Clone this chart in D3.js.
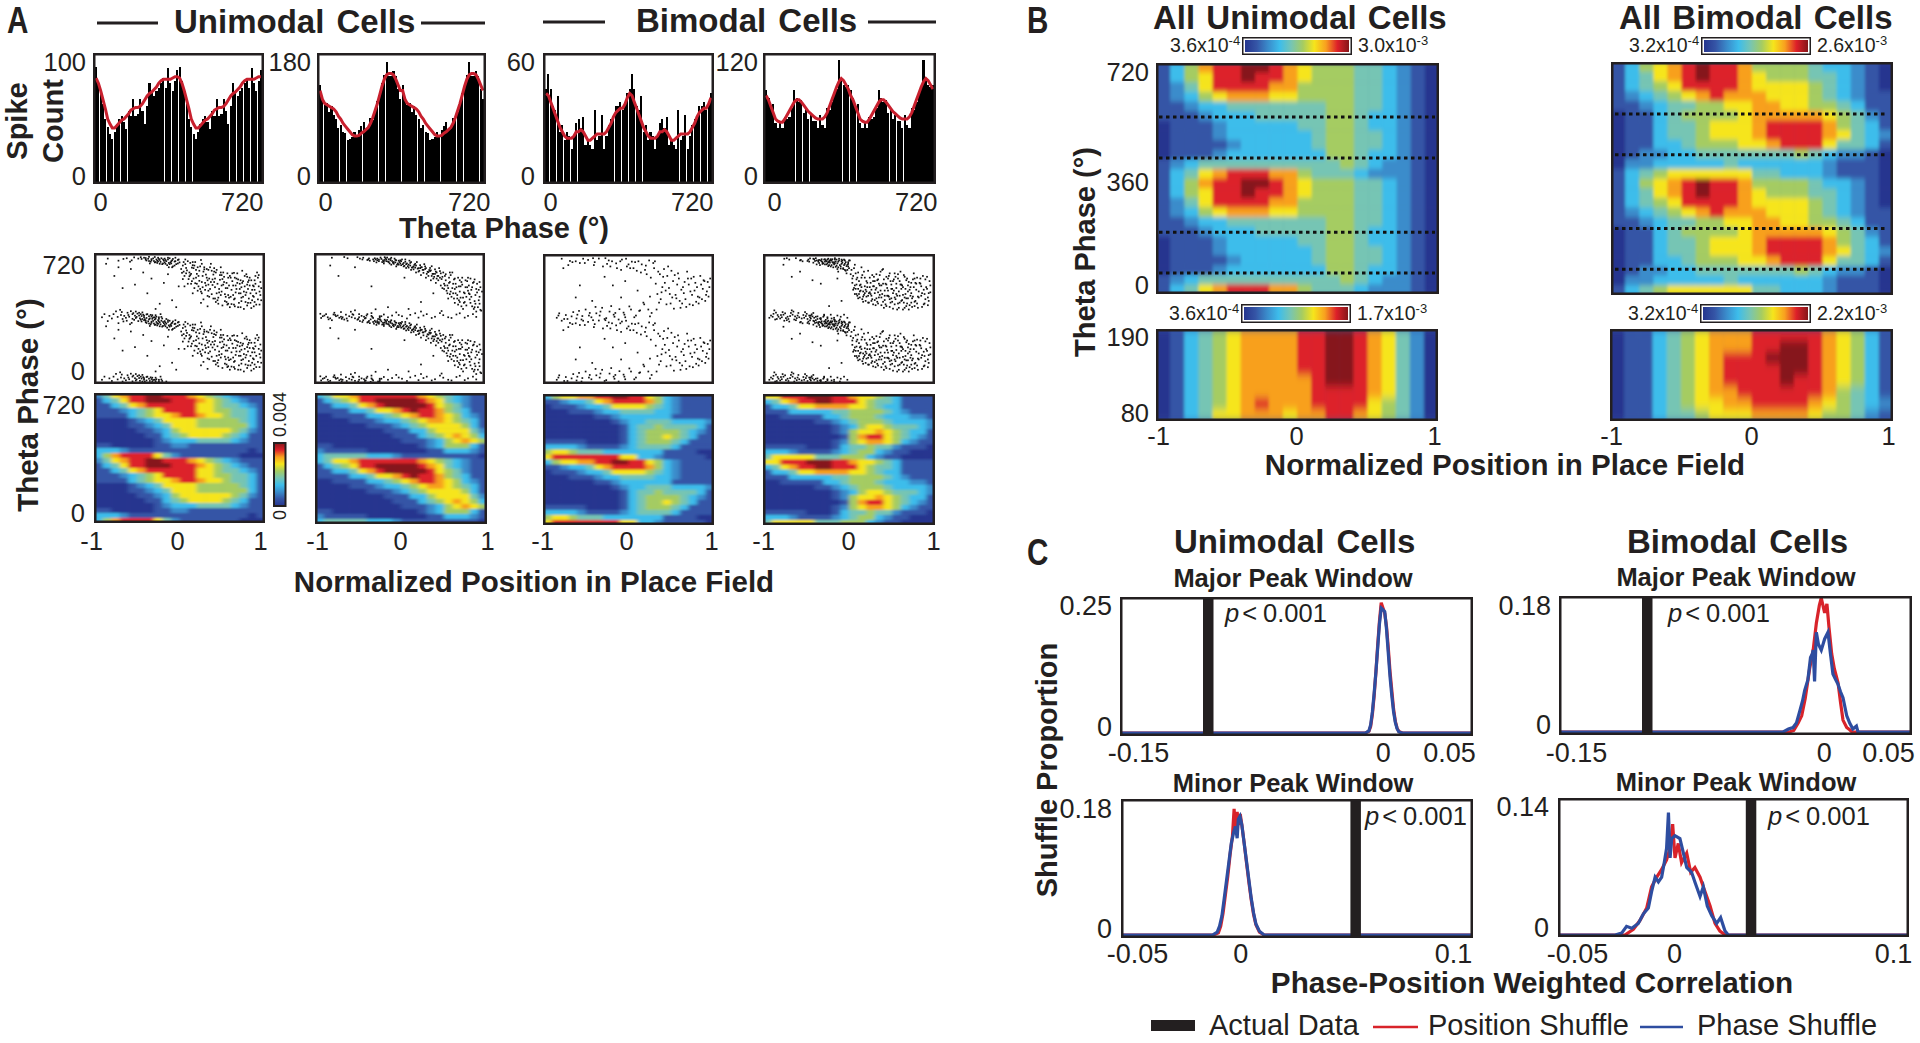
<!DOCTYPE html>
<html>
<head>
<meta charset="utf-8">
<script src="https://cdn.jsdelivr.net/npm/d3@7"></script>
<style>
  html, body { margin: 0; background: #fff; }
  svg { display: block; }
  text { font-family: "Liberation Sans", Arial, sans-serif; fill: #231f20; }
</style>
</head>
<body>
<svg id="fig" width="1920" height="1043"></svg>
<script>
// spike counts per 10 degree bin, one theta cycle, the figure shows it twice
const histBarsA1 = [91,80,72,62,50,44,38,34,40,46,50,52,48,42,56,52,66,52,54,66,56,46,60,78,70,68,72,74,78,82,74,90,78,72,80,88];
const histLineA1 = [82,78,72,65,58,50,46,43,43,45,47,49,50,52,54,57,58,59,59,60,62,65,68,70,71,73,75,78,80,81,81,81,81,82,83,83];
const histBarsA2 = [138,118,110,112,100,108,96,90,78,82,72,70,60,62,64,72,68,74,80,86,74,78,92,88,100,116,126,140,152,170,150,150,158,150,132,118];
const histLineA2 = [130,118,112,110,108,106,104,100,94,90,84,80,76,72,68,66,66,67,70,72,75,78,84,92,102,112,124,136,146,152,154,154,152,146,138,130];
const histBarsA3 = [44,51,44,36,34,41,24,27,20,24,22,16,22,28,30,26,31,18,20,18,16,34,20,22,32,16,22,27,30,30,36,36,38,34,38,42];
const histLineA3 = [42,41,38,35,32,29,26,24,22,21,21,21,22,24,24,25,24,22,20,20,21,22,23,23,23,23,24,26,28,31,33,34,35,35,37,40];
const histBarsA4 = [87,80,72,74,56,52,58,52,62,60,62,70,87,80,76,78,66,70,60,64,58,58,52,64,54,52,70,68,76,84,88,115,96,92,90,92];
const histLineA4 = [82,78,72,66,60,58,57,57,60,64,68,72,76,78,78,76,73,70,67,65,63,61,60,60,60,62,66,72,78,84,90,95,98,96,92,88];

// raster spikes: position x100 then phase in degrees, one cycle, drawn at phase and phase + 360
const rasterA1 = [-71,42,-58,3,-44,355,-63,25,-38,18,-52,33,-29,345,-47,348,-66,9,-34,3,-55,21,-41,339,-26,12,-60,47,-49,6,-36,332,-23,352,-45,27,-31,359,-57,36,-20,338,-39,349,-53,14,-28,325,-43,1,-35,16,-25,342,-48,358,-18,320,-32,336,-62,15,-40,30,-22,5,-51,350,-15,345,-37,322,-46,40,-27,355,-12,328,-33,11,-19,350,-42,344,-30,24,-56,357,-24,331,-10,340,-16,312,-35,347,-50,22,-21,322,-7,333,-13,352,-28,338,-44,12,-5,318,-17,335,-38,360,-9,305,-26,348,-3,342,-14,300,-31,328,-6,355,-11,322,-1,328,-54,45,-68,20,-73,55,-59,340,-64,38,-76,14,-81,30,-70,2,-65,352,-78,46,-86,20,-61,332,-69,348,-75,338,-83,5,-92,30,-88,350,-95,12,-72,25,-58,30,-47,19,-41,8,-36,26,-30,4,-24,30,
  3,310,8,282,12,325,5,250,16,295,20,262,9,335,24,305,14,220,28,275,18,330,32,240,22,190,11,270,36,300,26,215,40,258,7,296,30,170,44,285,34,200,15,312,48,228,38,145,19,240,52,270,42,185,25,342,56,210,46,125,29,288,60,250,50,160,33,225,64,195,54,105,37,320,68,235,58,140,41,275,72,175,62,88,45,205,76,220,66,120,49,300,80,155,70,70,53,245,84,195,74,105,57,180,88,135,78,250,61,130,92,85,82,175,65,268,96,160,86,65,69,210,90,225,73,150,94,115,77,60,81,245,85,95,89,190,93,270,97,140,6,345,13,205,21,165,27,250,35,130,43,100,51,80,59,195,67,155,75,280,83,120,91,205,23,280,31,195,39,230,47,175,55,130,63,220,71,95,79,140,87,170,95,255,2,268,10,232,17,180,26,150,34,285,42,120,50,255,58,90,66,240,74,185,82,215,90,100,98,180,4,330,12,255,20,205,28,115,36,175,44,150,52,200,60,70,68,175,76,130,84,240,92,150,15,150,25,95,33,75,41,215,49,140,57,265,65,85,73,225,81,80,89,130,97,215,
  -90,320,-80,250,-75,300,-70,180,-60,290,-55,200,-45,270,-40,150,-30,60,-20,210,-10,110,-5,70,-15,260,-2,190,-25,90,-35,235,
  -44,21,-37,5,-33,351,-29,15,-25,320,-21,345,-17,2,-13,318,-9,348,-46,2,-41,28,-35,340,-31,12,-27,334,-23,14,-19,328,-15,355,-11,335,-7,310,-3,322,-50,38,-54,8,-48,30,-42,353,-38,336,-34,24,-30,330,-26,3,-22,318,-18,342,-14,325,-10,300,-6,335,-2,345,
  1,290,6,318,11,248,4,275,15,330,9,205,19,285,13,262,23,222,17,310,27,185,21,300,31,258,25,160,35,235,29,300,39,198,33,135,43,270,37,215,47,155,41,295,51,232,45,110,55,180,49,270,59,125,53,215,63,265,57,85,67,195,61,240,71,150,65,115,75,210,69,265,79,100,73,70,83,225,77,160,87,110,81,200,91,250,85,150,95,190,89,75,3,232,7,265,14,298,18,208,22,250,26,320,30,210,34,165,38,280,42,235,46,90,50,195,54,145,58,240,62,170,66,75,70,230,74,125,78,190,82,95,86,225,90,170,94,240,98,110,5,190,16,235,24,175,32,290,40,120,48,255,56,100,64,140,72,205,80,260,88,195,96,85];
const rasterA2 = [-92,22,-85,6,-78,18,-71,3,-66,27,-59,12,-52,358,-47,20,-43,5,-38,351,-34,14,-30,345,-27,2,-24,356,-21,340,-18,352,-15,333,-12,348,-9,326,-6,342,-3,322,0,340,3,318,6,332,9,306,12,325,15,300,18,320,21,292,24,312,27,285,30,305,33,274,36,296,39,262,42,288,45,250,48,278,-88,12,-81,28,-74,9,-68,359,-62,18,-55,6,-49,350,-44,15,-40,342,-36,0,-32,335,-28,350,-25,10,-22,330,-19,342,-16,356,-13,322,-10,336,-7,350,-4,315,-1,330,2,345,5,308,8,322,11,338,14,298,17,314,20,330,23,280,26,300,29,318,32,262,35,284,38,306,41,245,44,270,47,295,50,232,-96,8,-90,30,-83,355,-76,22,-70,12,-64,352,-57,26,-51,2,-46,345,-41,22,-37,338,-33,8,-29,328,-26,344,-23,18,-20,322,-17,335,-14,346,-11,315,-8,330,-5,305,-2,338,1,312,4,325,7,296,10,315,13,285,16,305,19,270,22,295,25,255,28,285,31,240,34,272,37,225,40,262,43,210,46,250,49,195,
  52,270,55,225,58,180,61,255,64,205,67,150,70,240,73,190,76,125,79,225,82,165,85,95,88,210,91,140,94,70,97,185,53,205,56,165,59,240,62,130,65,230,68,185,71,110,74,215,77,155,80,80,83,195,86,130,89,60,92,175,95,110,98,50,54,250,57,195,60,145,63,270,66,175,69,120,72,160,75,240,78,100,81,185,84,145,87,75,90,230,93,155,96,90,51,180,60,215,70,85,80,130,90,105,66,95,76,60,86,170,96,215,72,225,82,240,92,45,58,120,64,150,74,75,
  -97,32,-80,38,-72,42,-60,44,-50,30,-35,36,-20,28,-10,22,2,18,12,26,22,10,32,30,42,15,52,24,62,8,72,35,82,20,92,14,-55,52,-30,58,-5,40,25,45,50,48,-75,250,-55,300,-35,190,-15,70,10,60,25,100,40,150,-85,310,5,240,
  -94,18,-87,0,-79,25,-72,15,-65,5,-58,30,-50,12,-45,355,-42,8,-39,345,-35,20,-31,352,-28,340,-25,0,-23,348,-20,332,-17,345,-14,330,-11,355,-8,320,-5,340,-2,315,1,335,4,305,7,318,10,298,13,330,16,288,19,310,22,275,25,300,28,268,31,295,34,250,37,282,40,235,43,275,46,225,49,265,-33,345,-26,335,-19,358,-12,340,-6,328,0,322,6,345,12,310,18,298,24,295,30,290,36,278,42,262,48,240,44,235,38,250,
  51,245,54,195,57,150,60,270,63,180,66,235,69,140,72,100,75,200,78,150,81,220,84,115,87,185,90,70,93,205,96,130,99,160,55,260,61,160,67,205,73,125,79,185,85,235,91,90,97,55,53,175,59,210,65,120,71,190,77,95,83,150,89,215,95,170,-40,30,-25,18,-15,12,-2,25,8,5,18,35,28,22,38,8,48,36,58,12,68,28,78,10,88,30];
const rasterA3 = [-88,12,-82,355,-77,28,-72,342,-68,45,-64,8,-60,330,-57,22,-53,60,-50,348,-46,15,-43,318,-40,38,-37,356,-33,70,-30,5,-27,325,-24,48,-21,340,-18,18,-15,300,-12,62,-9,350,-6,30,-3,310,0,78,3,338,6,15,9,285,12,52,15,322,18,90,21,265,24,345,27,40,30,300,-85,38,-79,5,-74,318,-70,20,-65,340,-61,52,-58,2,-54,330,-48,40,-44,358,-41,75,-36,25,-32,310,-28,10,-25,345,-22,80,-19,30,-16,328,-13,2,-10,290,-7,42,-4,355,-1,322,2,60,5,300,8,25,11,340,14,275,17,100,20,315,23,60,26,245,29,330,
  32,210,35,280,38,120,41,250,44,170,47,310,50,95,53,225,56,145,59,270,62,70,65,190,68,120,71,240,74,165,77,85,80,215,83,135,86,255,89,180,92,110,95,220,34,150,40,190,46,255,52,130,58,205,64,95,70,280,76,145,82,190,88,120,94,165,98,240,36,100,42,295,48,185,54,65,60,240,66,155,72,205,78,250,84,95,90,230,96,135,
  -30,250,-60,200,-10,130,-45,110,10,170,25,135,-80,300,-20,200,-5,225,-65,130,
  -86,25,-75,5,-69,335,-63,30,-56,355,-49,25,-42,335,-35,48,-29,358,-23,310,-17,40,-11,340,-5,15,1,300,7,335,13,55,19,290,25,20,31,340,37,265,43,215,49,150,55,260,61,110,67,220,73,90,79,170,85,130,91,225,97,190,33,60,39,160,45,90,51,285,57,125,63,175,69,75,75,240,81,105,87,205,93,145];
const rasterA4 = [-97,12,-92,35,-88,5,-83,28,-79,355,-75,18,-71,40,-67,2,-63,25,-59,348,-55,12,-52,35,-48,357,-45,20,-42,342,-39,5,-37,330,-34,352,-32,18,-30,338,-28,322,-26,355,-24,345,-22,8,-20,330,-18,350,-16,315,-14,338,-12,2,-10,325,-8,300,-6,345,-4,312,-2,335,-95,25,-90,2,-86,18,-81,45,-77,10,-73,350,-69,30,-65,358,-61,15,-57,340,-53,22,-50,350,-47,8,-44,332,-41,358,-38,345,-36,318,-33,335,-31,350,-29,0,-27,328,-25,340,-23,310,-21,352,-19,322,-17,338,-15,295,-13,345,-11,310,-9,332,-7,350,-5,285,-3,320,-1,300,-93,18,-89,42,-84,8,-80,30,-76,358,-72,22,-68,48,-64,10,-60,345,-56,28,-51,5,-49,338,-46,32,-43,352,-40,322,-38,338,-35,345,-33,325,-30,352,-28,340,-26,312,-24,332,-22,345,-20,305,-18,328,-16,350,-14,280,-12,318,-10,340,-8,295,-6,325,-4,270,-2,310,0,345,-91,55,-87,28,-82,15,-78,38,-74,5,-70,55,-66,20,-62,40,-58,8,-54,45,-49,25,-44,40,-39,20,-35,10,-31,30,-27,15,-23,30,-19,12,-15,25,-11,18,-7,30,-3,12,
  2,290,4,255,6,320,8,235,10,275,12,200,14,305,16,165,18,245,20,135,22,285,24,190,26,110,28,225,30,155,32,265,34,95,36,200,38,130,40,295,42,170,44,80,46,240,48,120,50,205,52,65,54,270,56,150,58,95,60,225,62,180,64,60,66,250,68,125,70,200,72,85,74,155,76,235,78,105,80,175,82,70,84,215,86,140,88,255,90,95,92,190,94,130,96,225,1,265,3,215,5,300,7,180,9,245,11,150,13,205,15,120,17,280,19,175,21,215,23,100,25,150,27,260,29,195,31,85,33,230,35,130,37,170,39,290,41,70,43,210,45,140,47,255,49,100,51,180,53,235,55,120,57,60,59,165,61,280,63,200,65,100,67,150,69,240,71,60,73,190,75,125,77,270,79,215,81,95,83,165,85,240,87,75,89,175,91,120,93,250,95,155,97,200,6,200,8,150,10,180,12,130,14,245,16,105,18,195,20,165,22,140,24,245,26,175,28,90,30,225,32,125,34,160,36,260,38,200,40,105,42,140,44,205,46,170,48,270,50,125,52,155,54,90,56,210,58,240,60,140,62,110,64,190,66,130,68,80,70,165,74,100,78,240,82,135,86,195,90,150,94,85,
  -80,320,-60,280,-45,230,-25,80,-10,110,-70,250,-35,210,-15,240,
  -41,18,-37,348,-35,3,-32,328,-29,345,-27,8,-25,318,-23,352,-21,335,-19,2,-17,308,-15,328,-13,355,-11,298,-9,345,-7,318,-5,335,-3,290,-1,345,-34,340,-30,322,-26,335,-22,318,-18,358,-14,305,-10,350,-6,290,-2,325,-48,15,-44,355,-40,345,-36,8,-31,25,-27,350,-23,345,-19,335,-51,342,-47,25,-43,12,
  3,240,5,185,7,270,9,140,11,225,13,170,15,260,17,145,19,110,21,190,23,155,25,215,27,120,29,250,31,175,33,105,35,210,37,280,39,150,41,235,43,90,45,185,47,135,49,225,51,105,53,170,55,250,57,140,59,70,61,205,63,115,65,260,67,180,69,95,71,220,73,140,75,75,77,190,79,110,81,245,83,130,85,210,87,155,89,90,91,235,93,180,95,110,97,160,4,175,6,150,8,205,10,125,12,165,14,190,16,135,18,155,20,225,22,100,24,160,26,140,28,195,30,115,32,185,34,235,36,145,38,85,40,210,42,115,44,250,46,140,48,75,50,180,52,225,54,130,56,185,58,265,60,100,62,205,64,145,66,70,68,230,70,125,72,175,74,215,76,135,78,80,80,210];

// rate maps on a 0-9 colour level, each string is one row from the top, one cycle
const heatA1 = [
  '24678899888765432111','13468899988876543211','11346788888866544321','11123456888866554431',
  '11113456678876654431','00001234666655555431','00001123466655555531','00000112356666665421',
  '00000011345666654311','00000001233344443211','11000001122111111111','33321111111111111101',
  '35788886421111111000'];
const heatA2 = [
  '34667888888876543211','13456889999987643211','11334678999998654211','11113346678988754311',
  '00111133456788765321','00001112334567765431','00000011123456666531','00000000111335666642',
  '00000000011134567653','00000000001112356765','11000000000012355531','21111100000001133321',
  '34444433321111111110'];
const heatA3 = [
  '35667788998865321111','11233467888875321111','01112334666654321111','00011123344443321111',
  '00000011233333311111','00000000123344433332','00000000013445444431','00000000013455554321',
  '00000000013455654311','11111000013455543111','33332111123444431111','56654443333333111100',
  '68888888866332111110'];
const heatA4 = [
  '66888999887665431111','34678899888654431111','13346677776654331111','11133333445555432111',
  '00111113345554333221','00000011234555433332','00000000123566544432','00000000125667654331',
  '00000000015788654321','00000000125677653211','11111000134454421110','33321111234553211000',
  '46666644455532110000'];
const heatBUni = [
  '13578899876555443210','13568898876555443210','12468888775555443210','12356777665555443210',
  '11233444444455443210','11123334444455433210','01112333334455433210','01112333333455443210',
  '01111233333455443210','01112333333355433210','12344444444445432210','13467888775444322210'];
const heatBBi = [
  '13567898875555433210','13467898876555443210','13456888876666543210','12345678777666543211',
  '11234455667766554311','01134555567777765421','01134456667888875431','01134456667888876432',
  '01133455566788864431','01223344444445432210','02233333433333321110','13456666664433321110'];
const heatBUniPeak = [
  '01345677778899876420','01345677778899876420','01345677778899876420','01345677778899876420',
  '01345677777899876420','01345677777888876420','01345678777888865420','01346677767788765420'];
const heatBBiPeak = [
  '01134567778888876531','01134567778899876531','01134567888999876531','01134567888899876531',
  '01134567888898876531','01134567788888875431','01134566778888765432','01134456667777655421'];

// dotted window edges in degrees
const windowsUni = [55, 186, 424, 556];
const windowsBi = [67, 198, 435, 566];

// shuffle distributions: [correlation, proportion]
const c1Red = [[-0.15,0],[-0.011,0],[-0.009,0.003],[-0.008,0.012],[-0.007,0.035],[-0.006,0.07],[-0.005,0.115],[-0.004,0.165],[-0.003,0.21],[-0.002,0.245],[-0.001,0.235],[0,0.225],[0.001,0.2],[0.002,0.16],[0.003,0.115],[0.004,0.08],[0.005,0.045],[0.006,0.022],[0.007,0.009],[0.008,0.003],[0.01,0],[0.05,0]];
const c1Blue = [[-0.15,0],[-0.011,0],[-0.009,0.004],[-0.008,0.015],[-0.007,0.04],[-0.006,0.075],[-0.005,0.115],[-0.004,0.16],[-0.003,0.205],[-0.002,0.235],[-0.001,0.232],[0,0.228],[0.001,0.195],[0.002,0.15],[0.003,0.105],[0.004,0.07],[0.005,0.04],[0.006,0.02],[0.007,0.008],[0.008,0.002],[0.01,0],[0.05,0]];
const c2Red = [[-0.05,0],[-0.0105,0],[-0.0085,0.003],[-0.0075,0.012],[-0.0065,0.03],[-0.0055,0.055],[-0.0045,0.08],[-0.0035,0.11],[-0.0025,0.135],[-0.0018,0.172],[-0.0012,0.14],[-0.0005,0.168],[0,0.15],[0.0008,0.165],[0.0015,0.15],[0.0025,0.125],[0.0035,0.098],[0.0045,0.072],[0.0055,0.048],[0.0065,0.028],[0.0075,0.014],[0.009,0.004],[0.011,0],[0.1,0]];
const c2Blue = [[-0.05,0],[-0.011,0],[-0.009,0.004],[-0.008,0.012],[-0.007,0.026],[-0.006,0.05],[-0.005,0.075],[-0.004,0.1],[-0.003,0.125],[-0.002,0.14],[-0.0012,0.148],[-0.0005,0.132],[0,0.158],[0.0007,0.162],[0.0015,0.15],[0.0025,0.125],[0.0035,0.1],[0.0045,0.075],[0.0055,0.05],[0.0065,0.03],[0.0075,0.015],[0.009,0.005],[0.011,0],[0.1,0]];
const c3Red = [[-0.15,0],[-0.0195,0],[-0.017,0.002],[-0.0145,0.012],[-0.0125,0.022],[-0.0105,0.045],[-0.008,0.085],[-0.006,0.11],[-0.0042,0.146],[-0.0025,0.17],[-0.0014,0.18],[0.0005,0.16],[0.0018,0.172],[0.003,0.14],[0.0045,0.105],[0.006,0.085],[0.0081,0.066],[0.0095,0.04],[0.0109,0.016],[0.013,0.006],[0.0147,0.003],[0.016,0],[0.05,0]];
const c3Blue = [[-0.15,0],[-0.023,0],[-0.02,0.004],[-0.0174,0.006],[-0.0155,0.012],[-0.0136,0.028],[-0.012,0.042],[-0.0108,0.056],[-0.009,0.07],[-0.0075,0.1],[-0.0065,0.105],[-0.006,0.11],[-0.0052,0.068],[-0.0042,0.134],[-0.003,0.118],[-0.0014,0.11],[0.0005,0.125],[0.0024,0.134],[0.0038,0.105],[0.0052,0.078],[0.0068,0.07],[0.0081,0.064],[0.0095,0.054],[0.0109,0.046],[0.013,0.022],[0.0147,0.012],[0.0165,0.004],[0.0185,0.008],[0.0194,0],[0.05,0]];
const c4Red = [[-0.05,0],[-0.0214,0],[-0.0178,0.006],[-0.015,0.015],[-0.0121,0.028],[-0.01,0.05],[-0.0078,0.06],[-0.0057,0.068],[-0.0036,0.078],[-0.0021,0.09],[-0.001,0.115],[0,0.08],[0.0014,0.095],[0.0028,0.075],[0.005,0.085],[0.0067,0.065],[0.0085,0.07],[0.0107,0.06],[0.0128,0.045],[0.015,0.03],[0.0171,0.012],[0.0192,0.004],[0.0214,0],[0.1,0]];
const c4Blue = [[-0.05,0],[-0.0256,0],[-0.0228,0.002],[-0.0207,0.009],[-0.0185,0.007],[-0.0157,0.012],[-0.0135,0.022],[-0.0114,0.028],[-0.01,0.045],[-0.0085,0.06],[-0.0071,0.055],[-0.0057,0.06],[-0.0046,0.075],[-0.0036,0.09],[-0.0028,0.127],[-0.0021,0.08],[-0.0014,0.1],[0,0.103],[0.0021,0.1],[0.0036,0.085],[0.005,0.07],[0.0071,0.065],[0.0085,0.055],[0.0107,0.04],[0.0121,0.05],[0.0138,0.03],[0.0157,0.02],[0.0178,0.012],[0.0195,0.018],[0.0214,0.004],[0.0228,0],[0.1,0]];
const actualData = [-0.1, 0.05, -0.1, 0.0325];

const heatColors = ['#26368f','#3555a6','#3a8ccb','#3dbdeb','#76c5b4','#a5cc62','#f6e51b','#f8a01f','#dd2029','#86161a'];
const ink = '#231f20', redLine = '#d8232a', blueLine = '#2e4da0';

const svg = d3.select('#fig');
const defs = svg.append('defs');
const heatScale = d3.scaleLinear().domain(d3.range(heatColors.length)).range(heatColors);

// cell maps in the original are blocky but soft, the blur differs with the cell shape
[['softA', '2 1.3'], ['softB', '1.7 2.6'], ['softC', '1.5 4.5']].forEach(f => {
  defs.append('filter').attr('id', f[0])
      .attr('x', '-5%').attr('y', '-10%').attr('width', '110%').attr('height', '120%')
    .append('feGaussianBlur').attr('stdDeviation', f[1]);
});

[['gradH', '0%', '100%', '0%', '0%'], ['gradV', '0%', '0%', '100%', '0%']].forEach(g => {
  defs.append('linearGradient').attr('id', g[0])
      .attr('x1', g[1]).attr('x2', g[2]).attr('y1', g[3]).attr('y2', g[4])
    .selectAll('stop').data(heatColors).join('stop')
      .attr('offset', (d, i) => i / (heatColors.length - 1))
      .attr('stop-color', d => d);
});

let clipCount = 0;
function clipFor(b) {
  const id = 'clip' + (clipCount++);
  defs.append('clipPath').attr('id', id).append('rect')
      .attr('x', b.x0).attr('y', b.y0).attr('width', b.x1 - b.x0).attr('height', b.y1 - b.y0);
  return `url(#${id})`;
}

function frame(b, w) {
  svg.append('rect')
      .attr('x', b.x0 + w / 2).attr('y', b.y0 + w / 2)
      .attr('width', b.x1 - b.x0 - w).attr('height', b.y1 - b.y0 - w)
      .attr('fill', 'none').attr('stroke', ink).attr('stroke-width', w);
}

function label(t, x, y, size, bold, anchor) {
  return svg.append('text').attr('x', x).attr('y', y).attr('font-size', size)
      .attr('font-weight', bold ? 'bold' : 'normal')
      .attr('text-anchor', anchor || 'start').text(t);
}

function rotated(t, x, y, size) {
  return svg.append('text').attr('transform', `translate(${x},${y}) rotate(-90)`)
      .attr('font-size', size).attr('font-weight', 'bold')
      .attr('text-anchor', 'middle').text(t);
}

function leftAxis(scale, values, xRight, nudges, size) {
  const g = svg.append('g').attr('transform', `translate(${xRight},0)`)
      .call(d3.axisLeft(scale).tickValues(values).tickSize(0).tickPadding(0).tickFormat(d => String(d)));
  g.select('.domain').remove();
  g.selectAll('text').attr('y', (d, i) => nudges[i])
      .style('font-family', '"Liberation Sans", Arial, sans-serif').style('font-size', size + 'px');
}

function bottomAxis(scale, values, baseline, nudges, size, anchors) {
  const g = svg.append('g').attr('transform', `translate(0,${baseline})`)
      .call(d3.axisBottom(scale).tickValues(values).tickSize(0).tickPadding(0).tickFormat(d => String(d)));
  g.select('.domain').remove();
  g.selectAll('text').attr('y', 0).attr('dy', 0).attr('x', (d, i) => nudges[i])
      .attr('text-anchor', (d, i) => anchors ? anchors[i] : 'middle')
      .style('font-family', '"Liberation Sans", Arial, sans-serif').style('font-size', size + 'px');
}

function histogram(b, bars, line, max, tickNudge, rightX) {
  const counts = bars.concat(bars), smooth = line.concat(line);
  const x = d3.scaleBand().domain(d3.range(counts.length)).range([b.x0 + 2, b.x1 - 2]).paddingInner(0.07);
  const y = d3.scaleLinear().domain([0, max]).range([b.y1 - 1, b.y0 + 2]);
  const g = svg.append('g').attr('clip-path', clipFor(b));
  g.selectAll('rect').data(counts).join('rect')
      .attr('x', (d, i) => x(i)).attr('width', x.bandwidth())
      .attr('y', d => y(d)).attr('height', d => y(0) - y(d))
      .attr('fill', '#000').attr('shape-rendering', 'crispEdges');
  g.append('path').datum(smooth)
      .attr('d', d3.line().x((d, i) => x(i) + x.bandwidth() / 2).y(d => y(d)))
      .attr('fill', 'none').attr('stroke', '#c8202e').attr('stroke-width', 3);
  frame(b, 2.5);
  leftAxis(y, [0, max], rightX, [-7, 7], 25.5);
  const phase = d3.scaleLinear().domain([0, 720]).range([b.x0, b.x1]);
  bottomAxis(phase, [0, 720], 211, tickNudge, 25.5, ['start', 'end']);
}

function raster(b, flat) {
  const x = d3.scaleLinear().domain([-100, 100]).range([b.x0 + 3, b.x1 - 3]);
  const y = d3.scaleLinear().domain([0, 720]).range([b.y1 - 3, b.y0 + 3]);
  const points = d3.range(0, flat.length, 2).map(i => [flat[i], flat[i + 1]]);
  const spikes = points.concat(points.map(p => [p[0], p[1] + 360]));
  svg.append('g').attr('clip-path', clipFor(b))
    .selectAll('rect').data(spikes).join('rect')
      .attr('x', d => x(d[0])).attr('y', d => y(d[1]))
      .attr('width', 1.7).attr('height', 1.7).attr('fill', '#111');
  frame(b, 2.5);
  return y;
}

function heatmap(b, rows, soft) {
  const x = d3.scaleBand().domain(d3.range(rows[0].length)).range([b.x0, b.x1]);
  const y = d3.scaleBand().domain(d3.range(rows.length)).range([b.y0, b.y1]);
  const cells = rows.flatMap((row, r) => row.split('').map((v, c) => ({r, c, v: +v})));
  const outer = svg.append('g').attr('clip-path', clipFor(b));
  outer.append('rect').attr('x', b.x0).attr('y', b.y0)
      .attr('width', b.x1 - b.x0).attr('height', b.y1 - b.y0).attr('fill', heatColors[1]);
  outer.append('g').attr('filter', `url(#${soft})`)
    .selectAll('rect').data(cells).join('rect')
      .attr('x', d => x(d.c)).attr('y', d => y(d.r))
      .attr('width', x.bandwidth() + 0.5).attr('height', y.bandwidth() + 0.5)
      .attr('fill', d => heatScale(d.v));
  frame(b, 2.5);
}

function rateLabel(base, exp, x, y) {
  const t = svg.append('text').attr('x', x).attr('y', y).attr('font-size', 19.5).text(base);
  t.append('tspan').attr('font-size', 13).attr('dy', -7).text(exp);
}

function colorbarB(b, lowBase, lowExp, highBase, highExp) {
  svg.append('rect').attr('x', b.x0 + 0.75).attr('y', b.y0 + 0.75)
      .attr('width', b.x1 - b.x0 - 1.5).attr('height', b.y1 - b.y0 - 1.5)
      .attr('fill', '#fff').attr('stroke', ink).attr('stroke-width', 1.5);
  svg.append('rect').attr('x', b.x0 + 3).attr('y', b.y0 + 3)
      .attr('width', b.x1 - b.x0 - 6).attr('height', b.y1 - b.y0 - 6)
      .attr('fill', 'url(#gradH)');
  rateLabel(lowBase, lowExp, b.x0 - 72, b.y1 - 3);
  rateLabel(highBase, highExp, b.x1 + 6, b.y1 - 3);
}

function distribution(b, domain, red, blue, actual, topValue, yNudge, xTicks, xNudge, baseline, yRange, labelRight, pPos) {
  const x = d3.scaleLinear().domain(domain).range([b.x0, b.x1]);
  const y = d3.scaleLinear().domain([0, topValue]).range(yRange);
  const g = svg.append('g').attr('clip-path', clipFor(b));
  const line = d3.line().x(d => x(d[0])).y(d => y(d[1]));
  g.append('path').datum(red).attr('d', line)
      .attr('fill', 'none').attr('stroke', redLine).attr('stroke-width', 3.2);
  g.append('path').datum(blue).attr('d', line)
      .attr('fill', 'none').attr('stroke', blueLine).attr('stroke-width', 3.2);
  g.append('line').attr('x1', x(actual)).attr('x2', x(actual))
      .attr('y1', b.y0).attr('y2', b.y1)
      .attr('stroke', ink).attr('stroke-width', 10.5);
  frame(b, 2.5);
  leftAxis(y, [0, topValue], labelRight, yNudge, 27);
  bottomAxis(x, xTicks, baseline, xNudge, 27);
  const p = svg.append('text').attr('x', pPos[0]).attr('y', pPos[1]).attr('font-size', 25.5);
  p.append('tspan').attr('font-style', 'italic').text('p');
  p.append('tspan').attr('dx', 3).text('<');
  p.append('tspan').attr('dx', 6).text('0.001');
}

// panel letters, squeezed like the condensed journal face
[['A', 7, 33], ['B', 1027, 33], ['C', 1027, 565]].forEach(d => {
  svg.append('text').attr('transform', `translate(${d[1]},${d[2]}) scale(0.8,1)`)
      .attr('font-size', 37).attr('font-weight', 'bold').text(d[0]);
});

// --- panel A ---
label('Unimodal Cells', 174, 33, 33, true).attr('word-spacing', 3);
label('Bimodal Cells', 636, 32, 33, true).attr('word-spacing', 3);
[[97, 158, 23], [421, 485, 23], [543, 605, 22], [868, 936, 22]].forEach(d => {
  svg.append('line').attr('x1', d[0]).attr('x2', d[1]).attr('y1', d[2]).attr('y2', d[2])
      .attr('stroke', ink).attr('stroke-width', 3);
});

histogram({x0: 93, x1: 264, y0: 53, y1: 184}, histBarsA1, histLineA1, 100, [0, -1], 86);
histogram({x0: 317, x1: 486, y0: 53, y1: 184}, histBarsA2, histLineA2, 180, [1, 4], 311);
histogram({x0: 543, x1: 714, y0: 53, y1: 184}, histBarsA3, histLineA3, 60, [0, -1], 535);
histogram({x0: 763, x1: 936, y0: 53, y1: 184}, histBarsA4, histLineA4, 120, [4, 1], 758);

rotated('Spike', 27, 121, 29);
rotated('Count', 63, 121, 29);
label('Theta Phase (°)', 504, 238, 29, true, 'middle');

const yRaster = raster({x0: 94, x1: 265, y0: 253, y1: 384}, rasterA1);
raster({x0: 314, x1: 485, y0: 253, y1: 384}, rasterA2);
raster({x0: 543, x1: 714, y0: 254, y1: 384}, rasterA3);
raster({x0: 763, x1: 935, y0: 254, y1: 384}, rasterA4);
leftAxis(yRaster, [0, 720], 85, [-10, 9], 25.5);

const heatBoxesA = [
  {x0: 94, x1: 265, y0: 393, y1: 523}, {x0: 315, x1: 487, y0: 393, y1: 524},
  {x0: 543, x1: 714, y0: 394, y1: 525}, {x0: 763, x1: 935, y0: 394, y1: 525}];
const tickNudgesA = [[-3, -2.5, -5], [2, -1, 0], [-1, -2.5, -3], [0, -1, -2]];
[heatA1, heatA2, heatA3, heatA4].forEach((rows, i) => {
  heatmap(heatBoxesA[i], rows.concat(rows), 'softA');
  const pos = d3.scaleLinear().domain([-1, 1]).range([heatBoxesA[i].x0, heatBoxesA[i].x1]);
  bottomAxis(pos, [-1, 0, 1], 550, tickNudgesA[i], 25.5);
});
leftAxis(d3.scaleLinear().domain([0, 720]).range([521, 395]), [0, 720], 85, [-8, 10], 25.5);
rotated('Theta Phase (°)', 38, 405, 29.5);
label('Normalized Position in Place Field', 534, 592, 29.5, true, 'middle');

svg.append('rect').attr('x', 274).attr('y', 443).attr('width', 11.5).attr('height', 63)
    .attr('fill', 'url(#gradV)').attr('stroke', ink).attr('stroke-width', 2);
svg.append('text').attr('transform', 'translate(286,437) rotate(-90)').attr('font-size', 18).text('0.004');
svg.append('text').attr('transform', 'translate(286,520) rotate(-90)').attr('font-size', 18).text('0');

// --- panel B ---
label('All Unimodal Cells', 1153, 29, 33, true).attr('word-spacing', 2);
label('All Bimodal Cells', 1619, 29, 33, true).attr('word-spacing', 2);

const mainUni = {x0: 1156, x1: 1439, y0: 63, y1: 294}, mainBi = {x0: 1611, x1: 1893, y0: 62, y1: 295};
const peakUni = {x0: 1156, x1: 1438, y0: 329, y1: 421}, peakBi = {x0: 1610, x1: 1893, y0: 329, y1: 421};
heatmap(mainUni, heatBUni.concat(heatBUni), 'softB');
heatmap(mainBi, heatBBi.concat(heatBBi), 'softB');
heatmap(peakUni, heatBUniPeak, 'softC');
heatmap(peakBi, heatBBiPeak, 'softC');

const yMain = d3.scaleLinear().domain([0, 720]).range([290, 66]);
[[windowsUni, 1159, 1435], [windowsBi, 1615, 1888]].forEach(w => {
  svg.append('g').selectAll('line').data(w[0]).join('line')
      .attr('x1', w[1]).attr('x2', w[2]).attr('y1', d => yMain(d)).attr('y2', d => yMain(d))
      .attr('stroke', '#111').attr('stroke-width', 3).attr('stroke-dasharray', '3.5 3.5');
});

leftAxis(yMain, [0, 360, 720], 1149, [-5, 4, 6], 25.5);
leftAxis(d3.scaleLinear().domain([80, 190]).range([419, 331]), [80, 190], 1149, [-6, 6], 25.5);
bottomAxis(d3.scaleLinear().domain([-1, 1]).range([1156, 1439]), [-1, 0, 1], 445, [2, -1.5, -5], 25.5);
bottomAxis(d3.scaleLinear().domain([-1, 1]).range([1610, 1893]), [-1, 0, 1], 445, [1, -0.5, -5], 25.5);

colorbarB({x0: 1242, x1: 1352, y0: 37, y1: 55}, '3.6x10', '-4', '3.0x10', '-3');
colorbarB({x0: 1701, x1: 1811, y0: 37, y1: 55}, '3.2x10', '-4', '2.6x10', '-3');
colorbarB({x0: 1241, x1: 1351, y0: 304, y1: 323}, '3.6x10', '-4', '1.7x10', '-3');
colorbarB({x0: 1700, x1: 1811, y0: 304, y1: 323}, '3.2x10', '-4', '2.2x10', '-3');

rotated('Theta Phase (°)', 1095, 252, 29);
label('Normalized Position in Place Field', 1505, 475, 29.5, true, 'middle');

// --- panel C ---
label('Unimodal Cells', 1174, 553, 33, true).attr('word-spacing', 3);
label('Bimodal Cells', 1627, 553, 33, true).attr('word-spacing', 3);
label('Major Peak Window', 1293, 587, 25.5, true, 'middle');
label('Minor Peak Window', 1293, 792, 25.5, true, 'middle');
label('Major Peak Window', 1736, 586, 25.5, true, 'middle');
label('Minor Peak Window', 1736, 791, 25.5, true, 'middle');

distribution({x0: 1120, x1: 1473, y0: 597, y1: 736}, [-0.15, 0.05], c1Red, c1Blue, actualData[0], 0.25,
    [-6, 6], [-0.15, 0, 0.05], [18, -2, -24], 762, [733, 600], 1112, [1225, 622]);
distribution({x0: 1121, x1: 1473, y0: 799, y1: 938}, [-0.05, 0.1], c2Red, c2Blue, actualData[1], 0.18,
    [-6, 6], [-0.05, 0, 0.1], [16, 2, -20], 963, [935, 803], 1112, [1365, 825]);
distribution({x0: 1559, x1: 1912, y0: 596, y1: 735}, [-0.15, 0.05], c3Red, c3Blue, actualData[2], 0.18,
    [-7, 8], [-0.15, 0, 0.05], [17, 0, -24], 762, [732, 598], 1551, [1668, 622]);
distribution({x0: 1558, x1: 1909, y0: 798, y1: 937}, [-0.05, 0.1], c4Red, c4Blue, actualData[3], 0.14,
    [-7, 7], [-0.05, 0, 0.1], [19, -1, -16], 963, [935, 800], 1549, [1768, 825]);

rotated('Shuffle Proportion', 1057, 770, 29);
label('Phase-Position Weighted Correlation', 1532, 993, 29.7, true, 'middle');

// legend
svg.append('rect').attr('x', 1151).attr('y', 1020).attr('width', 44).attr('height', 11).attr('fill', ink);
label('Actual Data', 1209, 1035, 29);
svg.append('line').attr('x1', 1373).attr('x2', 1418).attr('y1', 1027).attr('y2', 1027)
    .attr('stroke', redLine).attr('stroke-width', 2.5);
label('Position Shuffle', 1428, 1035, 29);
svg.append('line').attr('x1', 1640).attr('x2', 1683).attr('y1', 1027).attr('y2', 1027)
    .attr('stroke', blueLine).attr('stroke-width', 2.5);
label('Phase Shuffle', 1697, 1035, 29);
</script>
</body>
</html>
